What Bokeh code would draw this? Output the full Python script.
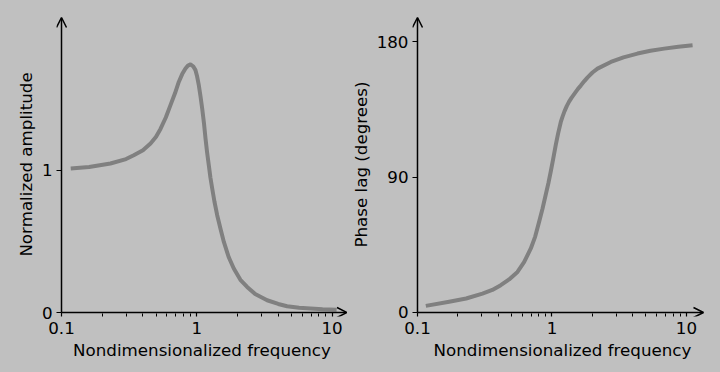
from bokeh.plotting import figure
from bokeh.layouts import row
from bokeh.models import Range1d, FixedTicker, NumeralTickFormatter, Arrow, OpenHead
from bokeh.embed import file_html
from bokeh.resources import INLINE

# ---- data ----
freq_amp = [0.117, 0.16, 0.23, 0.30, 0.342, 0.40, 0.455, 0.50, 0.539, 0.59, 0.639,
            0.69, 0.736, 0.78, 0.825, 0.86, 0.898, 0.94, 0.978, 1.005, 1.035,
            1.065, 1.096, 1.13, 1.16, 1.19, 1.227, 1.26, 1.30, 1.35, 1.415,
            1.50, 1.585, 1.72, 1.877, 2.1, 2.355, 2.7, 3.31, 4.0, 4.65, 5.7,
            6.92, 8.5, 10.8]
amplitude = [1.012, 1.022, 1.047, 1.078, 1.105, 1.14, 1.188, 1.235, 1.29, 1.37, 1.457,
             1.54, 1.62, 1.675, 1.715, 1.735, 1.743, 1.73, 1.703, 1.66, 1.597,
             1.52, 1.434, 1.33, 1.223, 1.13, 1.035, 0.95, 0.871, 0.78, 0.684,
             0.585, 0.496, 0.39, 0.309, 0.23, 0.18, 0.13, 0.086, 0.06, 0.044, 0.034,
             0.028, 0.023, 0.02]

freq_phase = [0.1153, 0.172, 0.23, 0.304, 0.36, 0.416, 0.48, 0.554, 0.62, 0.696,
              0.75, 0.802, 0.85, 0.899, 0.94, 0.98, 1.02, 1.067, 1.11, 1.163,
              1.20, 1.24, 1.29, 1.34, 1.40, 1.48, 1.56, 1.637, 1.74, 1.84, 2.0,
              2.18, 2.74, 3.4, 4.32, 5.4, 6.83, 8.7, 11.1]
phase_deg = [4.4, 7.1, 9.3, 12.6, 15.0, 18.2, 22.0, 27.0, 33.5, 42.6,
             50.5, 60.3, 69.0, 78.5, 86.0, 94.0, 102.0, 111.5, 119.0, 126.8,
             130.5, 134.0, 137.5, 140.3, 143.0, 146.0, 148.8, 151.0, 154.0, 156.5, 159.7,
             162.3, 166.7, 169.8, 172.3, 174.2, 175.6, 176.9, 177.8]

x_ticks = [0.1, 1, 10]
x_minor_ticks = [0.2, 0.3, 0.4, 0.5, 0.6, 0.7, 0.8, 0.9, 2, 3, 4, 5, 6, 7, 8, 9]
amp_ticks = [0, 1]
phase_ticks = [0, 90, 180]
x_label = "Nondimensionalized frequency"
amp_label = "Normalized amplitude"
phase_label = "Phase lag (degrees)"

BG = "#c0c0c0"
FONT = "DejaVu Sans"
FS = "16.7px"
CURVE = "#808080"


def make_fig(width, left, right, xr, yr, x_tip, y_tip, yticks, ylabel):
    p = figure(width=width, height=372, x_axis_type="log",
               x_range=Range1d(*xr), y_range=Range1d(*yr),
               output_backend="svg", toolbar_location=None,
               min_border_left=left, min_border_right=right,
               min_border_top=12, min_border_bottom=56)
    p.background_fill_color = BG
    p.border_fill_color = BG
    p.outline_line_color = None
    p.grid.visible = False

    xa = p.xaxis[0]
    xa.ticker = FixedTicker(ticks=x_ticks, minor_ticks=x_minor_ticks)
    xa.formatter = NumeralTickFormatter(format="0.[0]")
    xa.axis_label = x_label
    xa.major_tick_in = 4
    xa.major_tick_out = 0
    xa.minor_tick_in = 3
    xa.minor_tick_out = 0
    xa.major_label_standoff = 5
    xa.axis_label_standoff = 3
    xa.minor_tick_line_color = "black"
    xa.minor_tick_line_width = 1

    ya = p.yaxis[0]
    ya.ticker = FixedTicker(ticks=yticks)
    ya.axis_label = ylabel
    ya.major_tick_in = 5
    ya.major_tick_out = 0
    ya.minor_tick_line_color = None
    ya.major_label_standoff = 4
    ya.axis_label_standoff = 3

    for ax in (xa, ya):
        ax.axis_line_color = None
        ax.major_tick_line_color = "black"
        ax.major_tick_line_width = 1.2
        ax.major_label_text_font = FONT
        ax.major_label_text_font_size = FS
        ax.major_label_text_color = "black"
        ax.axis_label_text_font = FONT
        ax.axis_label_text_font_size = FS
        ax.axis_label_text_font_style = "normal"
        ax.axis_label_text_color = "black"

    # axis lines with open arrow heads, starting at the origin (0.1, 0)
    p.add_layout(Arrow(end=OpenHead(size=10, line_width=1.5, line_color="black"),
                       x_start=x_ticks[0], y_start=0, x_end=x_tip, y_end=0,
                       line_width=1.5, line_color="black"))
    p.add_layout(Arrow(end=OpenHead(size=10, line_width=1.5, line_color="black"),
                       x_start=x_ticks[0], y_start=0, x_end=x_ticks[0], y_end=y_tip,
                       line_width=1.5, line_color="black"))
    return p


p1 = make_fig(347, 56, 0, (0.09184, 13.0), (-0.0281, 2.108), 12.89, 2.073,
              amp_ticks, amp_label)
p1.line(freq_amp, amplitude, line_color=CURVE, line_width=4, line_join="round")

p2 = make_fig(373, 65, 8, (0.09181, 15.61), (-2.662, 199.63), 13.38, 196.3,
              phase_ticks, phase_label)
p2.line(freq_phase, phase_deg, line_color=CURVE, line_width=4, line_join="round")

layout = row(p1, p2, styles={"background-color": BG})
open("out.html", "w").write(file_html(layout, INLINE))
